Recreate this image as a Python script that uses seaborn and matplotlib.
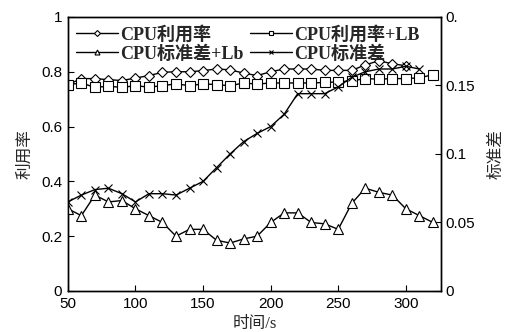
import numpy as np
import pandas as pd
import matplotlib
matplotlib.use("Agg")
import matplotlib.pyplot as plt
import seaborn as sns

# ---- data ----
time_s = [50, 60, 70, 80, 90, 100, 110, 120, 130, 140, 150, 160, 170, 180,
          190, 200, 210, 220, 230, 240, 250, 260, 270, 280, 290, 300, 310, 320]
cpu_util = [0.753, 0.775, 0.775, 0.771, 0.768, 0.777, 0.786, 0.798, 0.800, 0.800,
            0.804, 0.810, 0.807, 0.795, 0.786, 0.800, 0.810, 0.810, 0.810, 0.805,
            0.805, 0.805, 0.825, 0.840, 0.829, 0.822]
cpu_util_lb = [0.753, 0.759, 0.743, 0.747, 0.743, 0.749, 0.744, 0.749, 0.756, 0.749,
               0.756, 0.753, 0.749, 0.759, 0.755, 0.759, 0.759, 0.759, 0.759, 0.761,
               0.763, 0.767, 0.775, 0.773, 0.775, 0.775, 0.778, 0.789]
cpu_std_lb = [0.060, 0.055, 0.070, 0.065, 0.066, 0.060, 0.055, 0.050, 0.040, 0.045,
              0.045, 0.037, 0.035, 0.038, 0.040, 0.050, 0.057, 0.057, 0.050, 0.049,
              0.045, 0.064, 0.075, 0.072, 0.070, 0.060, 0.055, 0.050]
cpu_std = [0.065, 0.070, 0.074, 0.075, 0.071, 0.065, 0.071, 0.071, 0.070, 0.075,
           0.080, 0.090, 0.100, 0.109, 0.115, 0.120, 0.129, 0.144, 0.144, 0.144,
           0.149, 0.156, 0.160, 0.162, 0.162, 0.164, 0.162]
left_ticks = [0, 0.2, 0.4, 0.6, 0.8, 1]
left_tick_labels = ["0", "0.2", "0.4", "0.6", "0.8", "1"]
right_ticks = [0, 0.05, 0.1, 0.15, 0.2]
right_tick_labels = ["0", "0.05", "0.1", "0.15", "0."]
x_ticks = [50, 100, 150, 200, 250, 300]

names = ["CPU利用率", "CPU利用率+LB", "CPU标准差+Lb", "CPU标准差"]

sns.set_style("ticks")
plt.rcParams['font.family'] = ['Liberation Sans', 'Noto Sans CJK SC', 'DejaVu Sans']

fig = plt.figure(figsize=(5.14, 3.32), dpi=100)
ax = fig.add_axes([0.132, 0.1235, 0.726, 0.8255])
ax2 = ax.twinx()

lw = 1.0
common = dict(color="black", linewidth=lw, markerfacecolor="white",
              markeredgecolor="black", markeredgewidth=0.8)

sns.lineplot(x=time_s[:len(cpu_util)], y=cpu_util, ax=ax, marker="D",
             markersize=5.5, label=names[0], legend=False, **common)
sns.lineplot(x=time_s[:len(cpu_util_lb)], y=cpu_util_lb, ax=ax, marker="s",
             markersize=6.5, label=names[1], legend=False, **common)
sns.lineplot(x=time_s[:len(cpu_std_lb)], y=cpu_std_lb, ax=ax2, marker="^",
             markersize=6.5, label=names[2], legend=False, **common)
sns.lineplot(x=time_s[:len(cpu_std)], y=cpu_std, ax=ax2, marker="x",
             markersize=6, label=names[3], legend=False, **common)

ax.set_xlim(50, 326)
ax.set_ylim(0, 1)
ax2.set_ylim(0, 0.2)
ax.set_xticks(x_ticks)
ax.set_xticklabels([str(v) for v in x_ticks])
ax.set_yticks(left_ticks)
ax.set_yticklabels(left_tick_labels)
ax2.set_yticks(right_ticks)
ax2.set_yticklabels(right_tick_labels)

for a in (ax, ax2):
    for s in a.spines.values():
        s.set_visible(True)
        s.set_linewidth(1.0)
        s.set_color("black")
    a.grid(False)
ax.tick_params(axis="both", direction="in", length=4, width=0.8, labelsize=11,
               pad=3, colors="black")
ax.tick_params(axis="x", pad=4)
ax.tick_params(axis="y", pad=4)
ax2.tick_params(axis="y", direction="in", length=4, width=0.8, labelsize=11,
                pad=3, colors="black")

cjk = ['Noto Sans CJK SC', 'DejaVu Sans']
ax.set_xlabel("时间/s", family=['Liberation Serif', 'Noto Sans CJK SC'], fontsize=12, labelpad=4)
ax.set_ylabel("利用率", family=cjk, fontsize=12, labelpad=6)
ax2.set_ylabel("标准差", family=cjk, fontsize=12, labelpad=9)

h1, l1 = ax.get_legend_handles_labels()
h2, l2 = ax2.get_legend_handles_labels()
handles = [h1[0], h2[0], h1[1], h2[1]]
labels = [l1[0], l2[0], l1[1], l2[1]]
leg = ax.legend(handles, labels, loc="upper left", bbox_to_anchor=(-0.012, 1.015),
                ncol=2, frameon=False, handlelength=2.3, handletextpad=0.12,
                columnspacing=0.4, labelspacing=0.12, markerscale=0.55,
                borderaxespad=0.3,
                prop=dict(family=['Liberation Serif', 'Noto Sans CJK SC'],
                          size=13, weight='bold'))

fig.savefig("out.png", dpi=100)
